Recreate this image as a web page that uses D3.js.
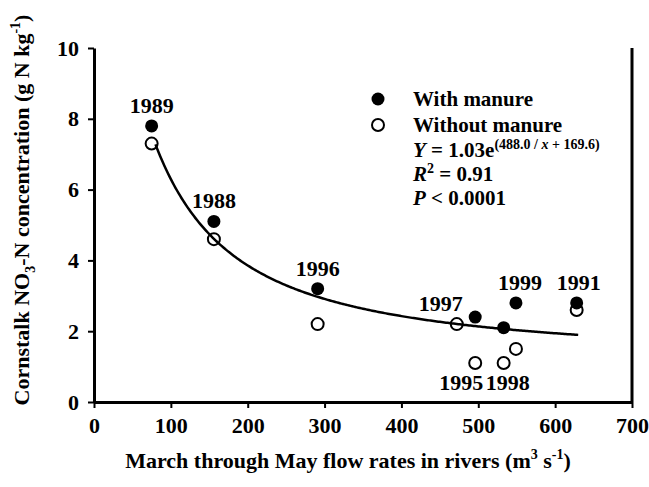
<!DOCTYPE html>
<html><head><meta charset="utf-8">
<script src="https://cdn.jsdelivr.net/npm/d3@7"></script>
<style>body{margin:0;background:#fff}svg{display:block}text{font-family:"Liberation Serif","Times New Roman",serif;font-weight:bold;fill:#000}</style>
</head><body>
<svg id="c" width="649" height="487"></svg>
<script>
const years = ["1989","1988","1996","1997","1995","1998","1999","1991"];
const flow = [75, 156, 291, 472, 496, 533, 549, 628];
const withManure = [7.8, 5.1, 3.2, null, 2.4, 2.1, 2.8, 2.8];
const withoutManure = [7.3, 4.6, 2.2, 2.2, 1.1, 1.1, 1.5, 2.6];
const labelAbove = [true, true, true, true, false, false, true, true];
const xTicks = [0,100,200,300,400,500,600,700];
const yTicks = [0,2,4,6,8,10];
const fitA = 1.03, fitB = 488.0, fitC = 169.6, fitRange = [80, 630];

const svg = d3.select("#c");
const x = d3.scaleLinear().domain([0,700]).range([94,632]);
const y = d3.scaleLinear().domain([0,10]).range([402,48]);

// axes
const xa = svg.append("g").attr("transform","translate(0,402)")
  .call(d3.axisBottom(x).tickValues(xTicks).tickSize(6).tickPadding(9).tickSizeOuter(0));
const ya = svg.append("g").attr("transform","translate(94,0)")
  .call(d3.axisLeft(y).tickValues(yTicks).tickSize(6).tickPadding(9).tickSizeOuter(0));
[xa,ya].forEach(g=>{
  g.select(".domain").attr("stroke","#000").attr("stroke-width",3);
  g.selectAll(".tick line").attr("stroke","#000").attr("stroke-width",2);
  g.selectAll(".tick text").style("font-family",'"Liberation Serif",serif').style("font-weight","bold").style("font-size","22px").attr("fill","#000");
});
// right border
svg.append("line").attr("x1",x(700)).attr("x2",x(700)).attr("y1",y(10)).attr("y2",y(0)).attr("stroke","#000").attr("stroke-width",3);

// fit curve
const fx = d3.range(fitRange[0], fitRange[1]+1, 2);
svg.append("path").datum(fx)
  .attr("d", d3.line().x(d=>x(d)).y(d=>y(fitA*Math.exp(fitB/(d+fitC)))))
  .attr("fill","none").attr("stroke","#000").attr("stroke-width",2.5);

const pts = years.map((yr,i)=>({yr, f:flow[i], w:withManure[i], o:withoutManure[i], above:labelAbove[i]}));
// with manure (filled)
svg.append("g").selectAll("circle").data(pts.filter(d=>d.w!=null)).join("circle")
  .attr("cx",d=>x(d.f)).attr("cy",d=>y(d.w)).attr("r",6.5).attr("fill","#000");
// without manure (open)
svg.append("g").selectAll("circle").data(pts).join("circle")
  .attr("cx",d=>x(d.f)).attr("cy",d=>y(d.o)).attr("r",6).attr("fill","none").attr("stroke","#000").attr("stroke-width",2);

// year labels
const labelDx = {"1997":-16,"1995":-14,"1998":4,"1999":4,"1991":2};
svg.append("g").selectAll("text").data(pts).join("text")
  .attr("x",d=>x(d.f)+(labelDx[d.yr]||0))
  .attr("y",d=>{
    const top = Math.max(d.w ?? -1, d.o);
    const bot = Math.min(d.w ?? 99, d.o);
    return d.above ? y(top)-13 : y(bot)+27;
  })
  .attr("text-anchor","middle").style("font-size","22px").text(d=>d.yr);

// legend
const lg = svg.append("g");
lg.append("circle").attr("cx",378).attr("cy",99).attr("r",6.5).attr("fill","#000");
lg.append("circle").attr("cx",378).attr("cy",125).attr("r",6).attr("fill","none").attr("stroke","#000").attr("stroke-width",2);
lg.append("text").attr("x",413).attr("y",106).style("font-size","21px").text("With manure");
lg.append("text").attr("x",413).attr("y",132).style("font-size","21px").text("Without manure");
const eq = lg.append("text").attr("x",413).attr("y",157).style("font-size","21px");
eq.append("tspan").style("font-style","italic").text("Y");
eq.append("tspan").text(" = 1.03e");
const sup = eq.append("tspan").attr("dy",-8).style("font-size","14px");
sup.append("tspan").text("(488.0 / ");
sup.append("tspan").style("font-style","italic").text("x");
sup.append("tspan").text(" + 169.6)");
const r2 = lg.append("text").attr("x",413).attr("y",181).style("font-size","21px");
r2.append("tspan").style("font-style","italic").text("R");
r2.append("tspan").attr("dy",-8).style("font-size","14px").text("2");
r2.append("tspan").attr("dy",8).text(" = 0.91");
const p = lg.append("text").attr("x",413).attr("y",205).style("font-size","21px");
p.append("tspan").style("font-style","italic").text("P");
p.append("tspan").text(" < 0.0001");

// x axis title
const xt = svg.append("text").attr("x",348).attr("y",468).attr("text-anchor","middle").style("font-size","22px");
xt.append("tspan").text("March through May flow rates in rivers (m");
xt.append("tspan").attr("dy",-9).style("font-size","14px").text("3");
xt.append("tspan").attr("dy",9).text(" s");
xt.append("tspan").attr("dy",-9).style("font-size","14px").text("-1");
xt.append("tspan").attr("dy",9).text(")");

// y axis title
const yt = svg.append("text").attr("transform","translate(29,210) rotate(-90)").attr("text-anchor","middle").style("font-size","22px");
yt.append("tspan").text("Cornstalk NO");
yt.append("tspan").attr("dy",6).style("font-size","14px").text("3");
yt.append("tspan").attr("dy",-6).text("-N concentration (g N kg");
yt.append("tspan").attr("dy",-9).style("font-size","14px").text("-1");
yt.append("tspan").attr("dy",9).text(")");
</script>
</body></html>
